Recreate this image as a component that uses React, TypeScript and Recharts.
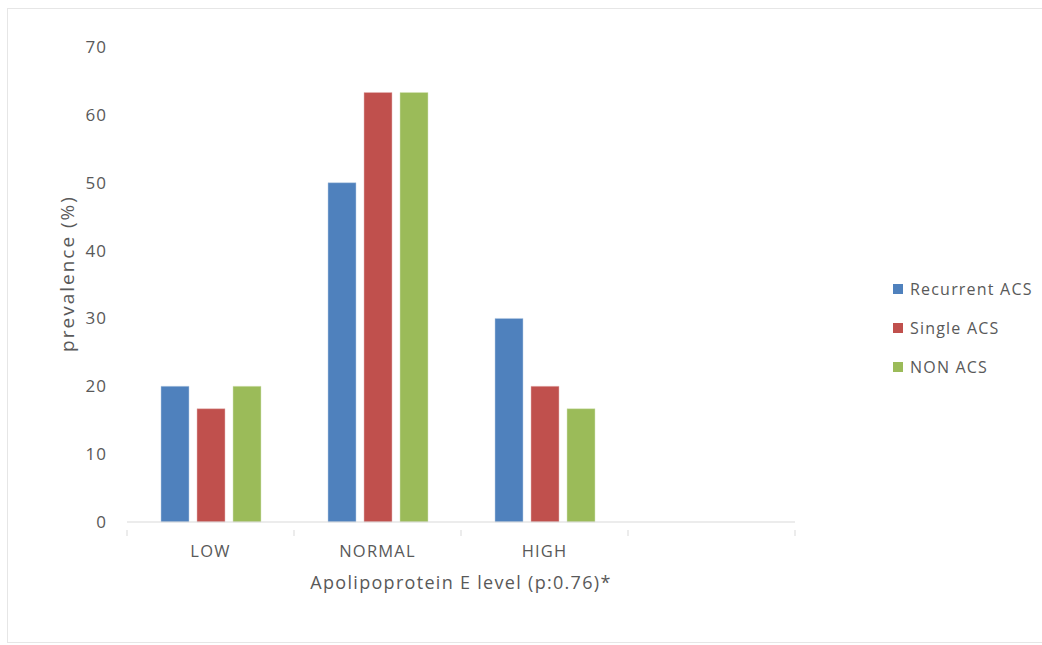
import { Bar, BarChart, XAxis, YAxis, Label } from 'recharts';

const categories = ['LOW', 'NORMAL', 'HIGH', ''];
const recurrentAcs = [20, 50, 30, null];
const singleAcs = [16.7, 63.3, 20, null];
const nonAcs = [20, 63.3, 16.7, null];
const yTicks = [0, 10, 20, 30, 40, 50, 60, 70];

const seriesNames = ['Recurrent ACS', 'Single ACS', 'NON ACS'];
const colors = ['#4F81BD', '#C0504D', '#9BBB59'];

const data = categories.map((name, i) => ({
  name,
  recurrent: recurrentAcs[i],
  single: singleAcs[i],
  non: nonAcs[i],
}));

const FONT = '"Open Sans", sans-serif';
const TEXT = '#595959';
const HALF_BAND = (795 - 127) / categories.length / 2;

function CategoryTick(props: any) {
  const { x, y, payload, index } = props;
  const last = index === categories.length - 1;
  return (
    <g>
      <line x1={x - HALF_BAND} x2={x - HALF_BAND} y1={y} y2={y + 6} stroke="#d9d9d9" />
      {last && <line x1={x + HALF_BAND} x2={x + HALF_BAND} y1={y} y2={y + 6} stroke="#d9d9d9" />}
      <text x={x} y={y + 27} textAnchor="middle" fill={TEXT} fontSize={16.5} fontFamily={FONT} style={{ letterSpacing: 1.2 }}>
        {payload.value}
      </text>
    </g>
  );
}

function LegendBox() {
  return (
    <div style={{ position: 'absolute', left: 893, top: 269, fontFamily: FONT, fontSize: 16, color: TEXT, letterSpacing: 1.2 }}>
      {seriesNames.map((n, i) => (
        <div key={n} style={{ display: 'flex', alignItems: 'center', height: 39 }}>
          <span style={{ width: 10, height: 10, background: colors[i], marginRight: 7, display: 'inline-block' }} />
          {n}
        </div>
      ))}
    </div>
  );
}

export default function App() {
  return (
    <div style={{ position: 'absolute', left: 0, top: 0, width: 1042, height: 645, background: '#fff' }}>
      <div style={{ position: 'absolute', left: 7, top: 8, width: 1040, height: 635, border: '1px solid #e6e6e6', boxSizing: 'border-box' }} />
      <BarChart
        width={1042}
        height={645}
        data={data}
        margin={{ top: 47, right: 247, bottom: 0, left: 67 }}
        barCategoryGap={33}
        barGap={8}
      >
        <XAxis
          dataKey="name"
          height={123}
          axisLine={{ stroke: '#d9d9d9' }}
          tickLine={false}
          interval={0}
          tick={<CategoryTick />}
        >
          <Label value="Apolipoprotein E level (p:0.76)*" position="insideTop" offset={54} fill={TEXT} fontSize={18} fontFamily={FONT} style={{ letterSpacing: 1.3 }} />
        </XAxis>
        <YAxis
          width={60}
          domain={[0, 70]}
          ticks={yTicks}
          axisLine={false}
          tickLine={false}
          tickSize={0}
          tickMargin={20}
          tick={{ fill: TEXT, fontSize: 17, fontFamily: FONT, style: { letterSpacing: 1 } }}
        >
          <Label value="prevalence (%)" angle={-90} position="insideLeft" offset={0} dy={-11} fill={TEXT} fontSize={19} fontFamily={FONT} style={{ textAnchor: 'middle', letterSpacing: 2 }} />
        </YAxis>
        <Bar dataKey="recurrent" name={seriesNames[0]} fill={colors[0]} stroke="#b8cce4" strokeWidth={0.5} barSize={28} isAnimationActive={false} />
        <Bar dataKey="single" name={seriesNames[1]} fill={colors[1]} stroke="#e6b9b8" strokeWidth={0.5} barSize={28} isAnimationActive={false} />
        <Bar dataKey="non" name={seriesNames[2]} fill={colors[2]} stroke="#d7e4bd" strokeWidth={0.5} barSize={28} isAnimationActive={false} />
      </BarChart>
      <LegendBox />
    </div>
  );
}
